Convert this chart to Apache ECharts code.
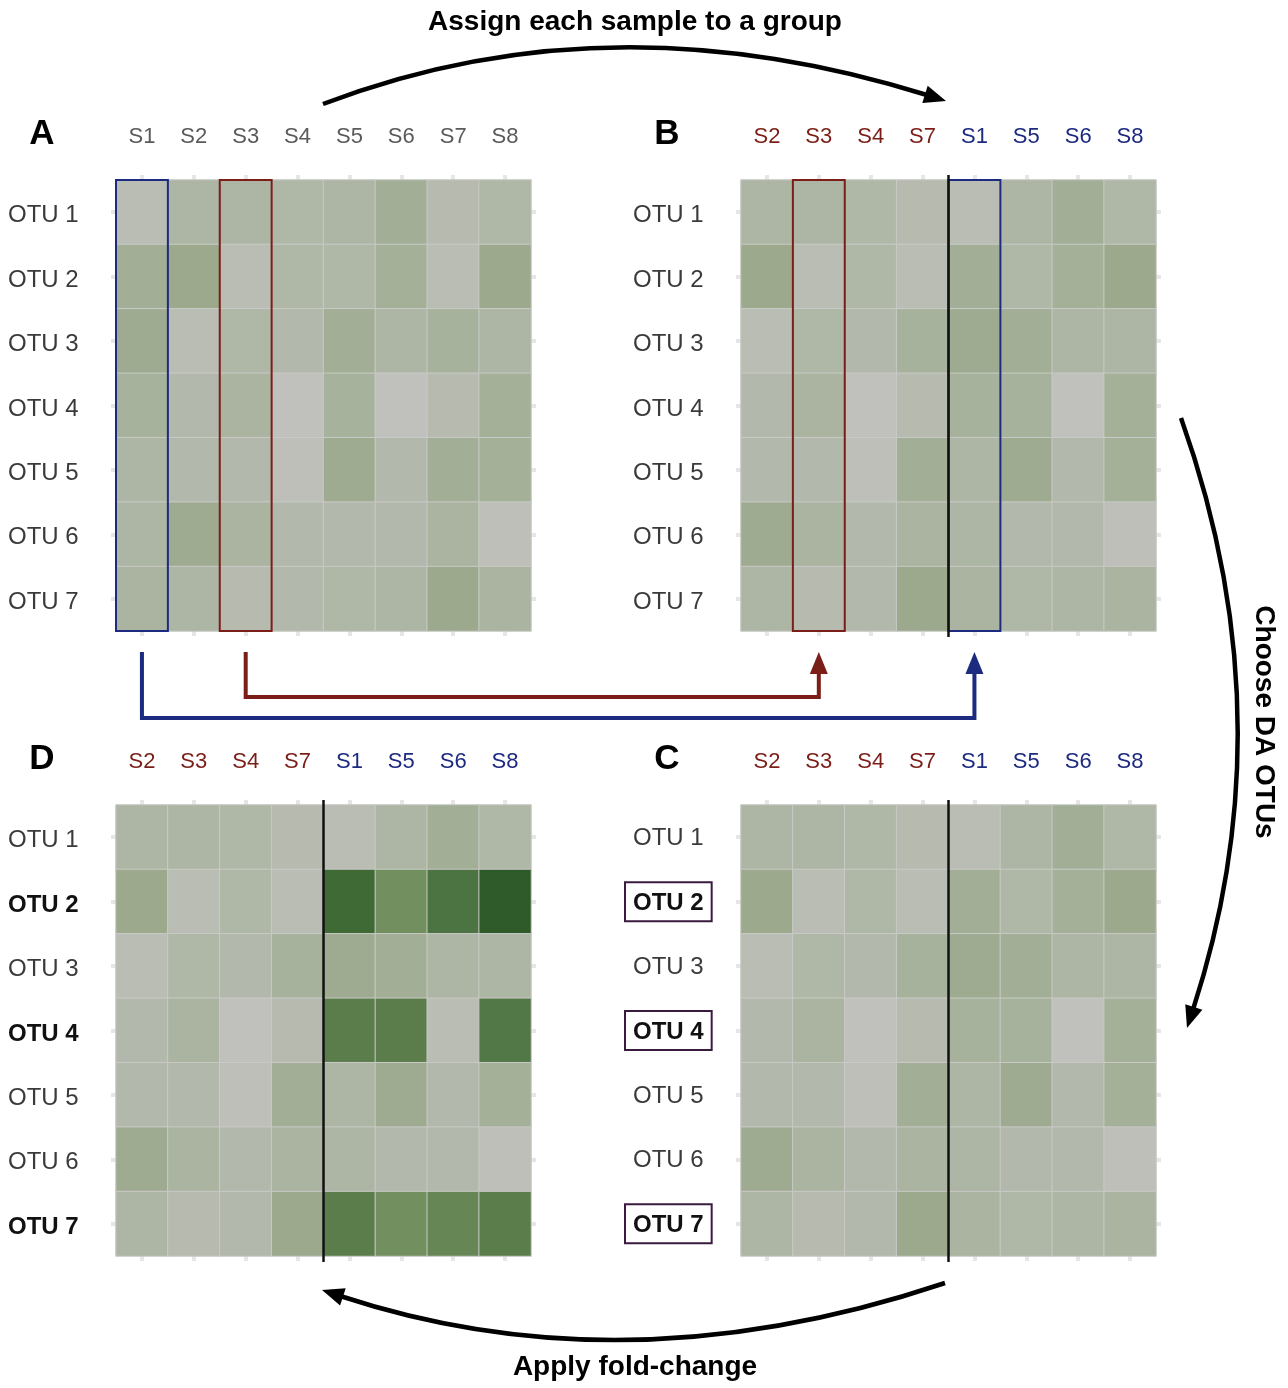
<!DOCTYPE html>
<html><head><meta charset="utf-8">
<script src="https://cdn.jsdelivr.net/npm/echarts@6/dist/echarts.min.js"></script>
<style>html,body{margin:0;padding:0;background:#fff}#c{width:1288px;height:1388px}</style>
</head><body><div id="c"></div>
<script>
// ---------------- data ----------------
const samples = ['S1','S2','S3','S4','S5','S6','S7','S8'];
const otus = ['OTU 1','OTU 2','OTU 3','OTU 4','OTU 5','OTU 6','OTU 7'];
const groupOrder = ['S2','S3','S4','S7','S1','S5','S6','S8'];
const groupRed = ['S2','S3','S4','S7'];
const groupBlue = ['S1','S5','S6','S8'];
const daOtus = ['OTU 2','OTU 4','OTU 7'];
// relative abundance per OTU, columns S1..S8 (panel A)
const otu1 = [1, 3, 3, 2.5, 3, 5, 1.5, 2.5];
const otu2 = [5, 6, 1, 2.5, 2.5, 4.5, 1, 6];
const otu3 = [5.5, 1, 2.5, 2, 5, 3, 4, 3];
const otu4 = [4, 2, 3.5, 0, 4, 0, 1.5, 4.5];
const otu5 = [3, 2, 2, 0.5, 5.5, 2, 5, 4.5];
const otu6 = [3, 5.5, 3.5, 2, 2, 2, 3.5, 0.5];
const otu7 = [3.5, 3, 1.5, 2, 2.5, 3, 6, 3.5];
// panel D: abundance after fold change, columns S1,S5,S6,S8
const foldOtu2 = [18, 12, 16, 20];
const foldOtu4 = [14, 14, 1, 15];
const foldOtu7 = [14, 12, 13, 14];

const baseRows = [otu1, otu2, otu3, otu4, otu5, otu6, otu7];
const foldRows = {'OTU 2': foldOtu2, 'OTU 4': foldOtu4, 'OTU 7': foldOtu7};

function panelData(order, fold) {
  const out = [];
  otus.forEach((o, r) => {
    order.forEach((s, c) => {
      let v = baseRows[r][samples.indexOf(s)];
      if (fold && fold[o] && groupBlue.includes(s)) v = fold[o][groupBlue.indexOf(s)];
      out.push([c, r, v]);
    });
  });
  return out;
}

// ---------------- layout ----------------
const FONT = "'Liberation Sans', Arial, Helvetica, sans-serif";
const RED = '#7b1e18', BLUE = '#1c2a80';
const panels = [
  {name:'A', left:116, top:180, order:samples, fold:null, grouped:false, yStyle:'plain'},
  {name:'B', left:741, top:180, order:groupOrder, fold:null, grouped:true, yStyle:'plain'},
  {name:'C', left:741, top:805, order:groupOrder, fold:null, grouped:true, yStyle:'box'},
  {name:'D', left:116, top:805, order:groupOrder, fold:foldRows, grouped:true, yStyle:'bold'}
];
const GW = 415, GH = 451;
const YFS = 24;

const grids = [], xAxes = [], yAxes = [], series = [];
const tick = {show:true, alignWithLabel:true, length:5, lineStyle:{color:'#e6e6e6', width:4}};
panels.forEach((p, i) => {
  grids.push({left:p.left, top:p.top, width:GW, height:GH});
  xAxes.push({
    type:'category', gridIndex:i, position:'top', data:p.order,
    axisLine:{show:false}, axisTick:tick, splitLine:{show:false},
    axisLabel:{
      margin:32, fontSize:22, fontFamily:FONT,
      color: p.grouped ? (v => groupRed.includes(v) ? RED : BLUE) : '#5a5a5a'
    }
  });
  xAxes.push({type:'category', gridIndex:i, position:'bottom', data:p.order,
    axisLine:{show:false}, axisTick:tick, axisLabel:{show:false}});
  let yLabel;
  if (p.yStyle === 'plain') {
    yLabel = {margin:108, align:'left', fontFamily:FONT,
      formatter: v => '{n|' + v + '}',
      rich:{n:{fontSize:YFS, color:'#3a3a3a', fontFamily:FONT, padding:[7,0,0,0]}}};
  } else if (p.yStyle === 'bold') {
    yLabel = {margin:108, align:'left', fontFamily:FONT,
      formatter: v => daOtus.includes(v) ? '{b|' + v + '}' : '{n|' + v + '}',
      rich:{b:{fontSize:YFS, fontWeight:'bold', color:'#111', fontFamily:FONT, padding:[7,0,0,0]},
            n:{fontSize:YFS, color:'#3a3a3a', fontFamily:FONT, padding:[7,0,0,0]}}};
  } else {
    yLabel = {margin:116, align:'left', fontFamily:FONT,
      formatter: v => daOtus.includes(v) ? '{b|' + v + '}' : '{n|' + v + '}',
      rich:{b:{fontSize:YFS, fontWeight:'bold', color:'#111', fontFamily:FONT,
               borderColor:'#3b1a40', borderWidth:2, padding:[9,8,6,8]},
            n:{fontSize:YFS, color:'#3a3a3a', fontFamily:FONT, padding:[9,8,6,8]}}};
  }
  yAxes.push({type:'category', gridIndex:i, position:'left', inverse:true, data:otus,
    axisLine:{show:false}, axisTick:tick, axisLabel:yLabel});
  yAxes.push({type:'category', gridIndex:i, position:'right', inverse:true, data:otus,
    axisLine:{show:false}, axisTick:tick, axisLabel:{show:false}});
  series.push({
    type:'heatmap', xAxisIndex:2*i, yAxisIndex:2*i,
    data: panelData(p.order, p.fold),
    itemStyle:{borderColor:'#c9cac6', borderWidth:1},
    emphasis:{disabled:true}, silent:true, animation:false
  });
});

const chart = echarts.init(document.getElementById('c'), null, {renderer:'canvas'});
chart.setOption({
  backgroundColor:'#ffffff',
  animation:false,
  grid:grids, xAxis:xAxes, yAxis:yAxes, series:series,
  visualMap:{type:'continuous', show:false, min:0, max:20, seriesIndex:[0,1,2,3],
    inRange:{color:['#c0c1bc','#b2b8ab','#a7b29c','#9ca98d','#8aa07c','#7e976c',
                    '#72905f','#5a7d4b','#4c7342','#3f6a35','#2f5a2a']}}
});

// ---------------- annotations ----------------
function cell(pi, c, r) { return chart.convertToPixel({seriesIndex:pi}, [c, r]); }
const g = [];
function colRect(pi, sample, color) {
  const c = panels[pi].order.indexOf(sample);
  const p0 = cell(pi, c, 0), p1 = cell(pi, c + 1 < 8 ? c + 1 : c - 1, 0);
  const w = Math.abs(p1[0] - p0[0]);
  g.push({type:'rect', shape:{x:p0[0] - w/2, y:panels[pi].top, width:w, height:GH},
    style:{fill:'none', stroke:color, lineWidth:2}, z:100});
}
colRect(0, 'S1', BLUE); colRect(0, 'S3', RED);
colRect(1, 'S3', RED); colRect(1, 'S1', BLUE);
// separators between groups
[1, 2, 3].forEach(pi => {
  const a = cell(pi, 3, 0), b = cell(pi, 4, 0);
  const x = (a[0] + b[0]) / 2;
  g.push({type:'line', shape:{x1:x, y1:panels[pi].top - 5, x2:x, y2:panels[pi].top + GH + 6},
    style:{stroke:'#111', lineWidth:2.5}, z:101});
});
// connectors A -> B
function connector(sample, yLevel, color) {
  const xa = cell(0, samples.indexOf(sample), 0)[0];
  const xb = cell(1, groupOrder.indexOf(sample), 0)[0];
  const y0 = 180 + GH + 21;
  g.push({type:'polyline', shape:{points:[[xa, y0], [xa, yLevel], [xb, yLevel], [xb, y0 + 18]]},
    style:{stroke:color, lineWidth:4, fill:'none'}});
  g.push({type:'polygon', shape:{points:[[xb, y0], [xb - 9, y0 + 22], [xb + 9, y0 + 22]]},
    style:{fill:color}});
}
connector('S3', 697, RED);
connector('S1', 718, BLUE);

// curved arrows
function curveArrow(s, cp, tip, len, wid) {
  const dx = tip[0] - cp[0], dy = tip[1] - cp[1];
  const d = Math.hypot(dx, dy), ux = dx / d, uy = dy / d;
  const base = [tip[0] - ux * len, tip[1] - uy * len];
  g.push({type:'bezierCurve', shape:{x1:s[0], y1:s[1], cpx1:cp[0], cpy1:cp[1], x2:base[0] + ux*2, y2:base[1] + uy*2},
    style:{stroke:'#000', lineWidth:4.5, fill:'none'}});
  g.push({type:'polygon', shape:{points:[tip, [base[0] - uy*wid/2, base[1] + ux*wid/2], [base[0] + uy*wid/2, base[1] - ux*wid/2]]},
    style:{fill:'#000'}});
}
curveArrow([323, 104], [608, -5], [946, 101], 22, 18);
curveArrow([1181, 418], [1288, 718], [1187, 1028], 22, 18);
curveArrow([945, 1283], [626, 1390], [322, 1290], 22, 18);

function txt(x, y, s, size, rot) {
  g.push({type:'text', x:x, y:y, rotation:rot || 0,
    style:{text:s, fontSize:size, fontWeight:'bold', fontFamily:FONT, fill:'#000',
      textAlign:'center', textVerticalAlign:'middle'}});
}
txt(635, 22, 'Assign each sample to a group', 28);
txt(635, 1367, 'Apply fold-change', 28);
txt(1264, 722, 'Choose DA OTUs', 28, -Math.PI / 2);
txt(42, 134, 'A', 35); txt(667, 134, 'B', 35);
txt(42, 759, 'D', 35); txt(667, 759, 'C', 35);

chart.setOption({graphic:{elements:g}});
</script></body></html>
